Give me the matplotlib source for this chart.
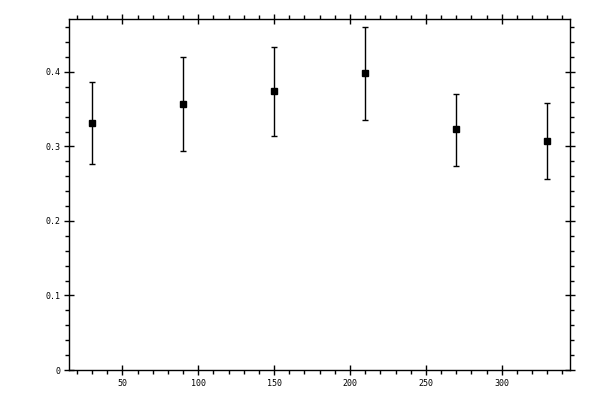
import matplotlib
matplotlib.use("Agg")
import matplotlib.pyplot as plt
import numpy as np
from matplotlib.ticker import MultipleLocator, FormatStrFormatter

# data
x_vals = [30, 90, 150, 210, 270, 330]
y_vals = [0.331, 0.357, 0.374, 0.398, 0.323, 0.307]
y_upper = [0.386, 0.420, 0.434, 0.460, 0.371, 0.358]
y_lower = [0.276, 0.294, 0.314, 0.336, 0.274, 0.256]


def main():
    y = np.array(y_vals)
    err = [y - np.array(y_lower), np.array(y_upper) - y]

    plt.rcParams["font.family"] = ["DejaVu Sans Mono"]
    fig = plt.figure(figsize=(6, 4), dpi=100)
    ax = fig.add_axes([0.1155, 0.075, 0.8345, 0.8775])

    ax.errorbar(x_vals, y, yerr=err, fmt="s", color="black", ms=5,
                elinewidth=1.0, capsize=2, capthick=1.0)

    ax.set_xlim(15, 345)
    ax.set_ylim(0, 0.471)

    ax.xaxis.set_major_locator(MultipleLocator(50))
    ax.xaxis.set_minor_locator(MultipleLocator(10))
    ax.yaxis.set_major_locator(MultipleLocator(0.1))
    ax.yaxis.set_minor_locator(MultipleLocator(0.02))
    ax.yaxis.set_major_formatter(FormatStrFormatter("%g"))

    for s in ax.spines.values():
        s.set_linewidth(1.0)

    ax.tick_params(which="major", direction="inout", length=7, width=1,
                   top=True, right=True, labelsize=6, pad=3)
    ax.tick_params(which="minor", direction="out", length=3, width=1,
                   top=True, right=True)

    fig.savefig("out.png", dpi=100)


if __name__ == "__main__":
    main()
